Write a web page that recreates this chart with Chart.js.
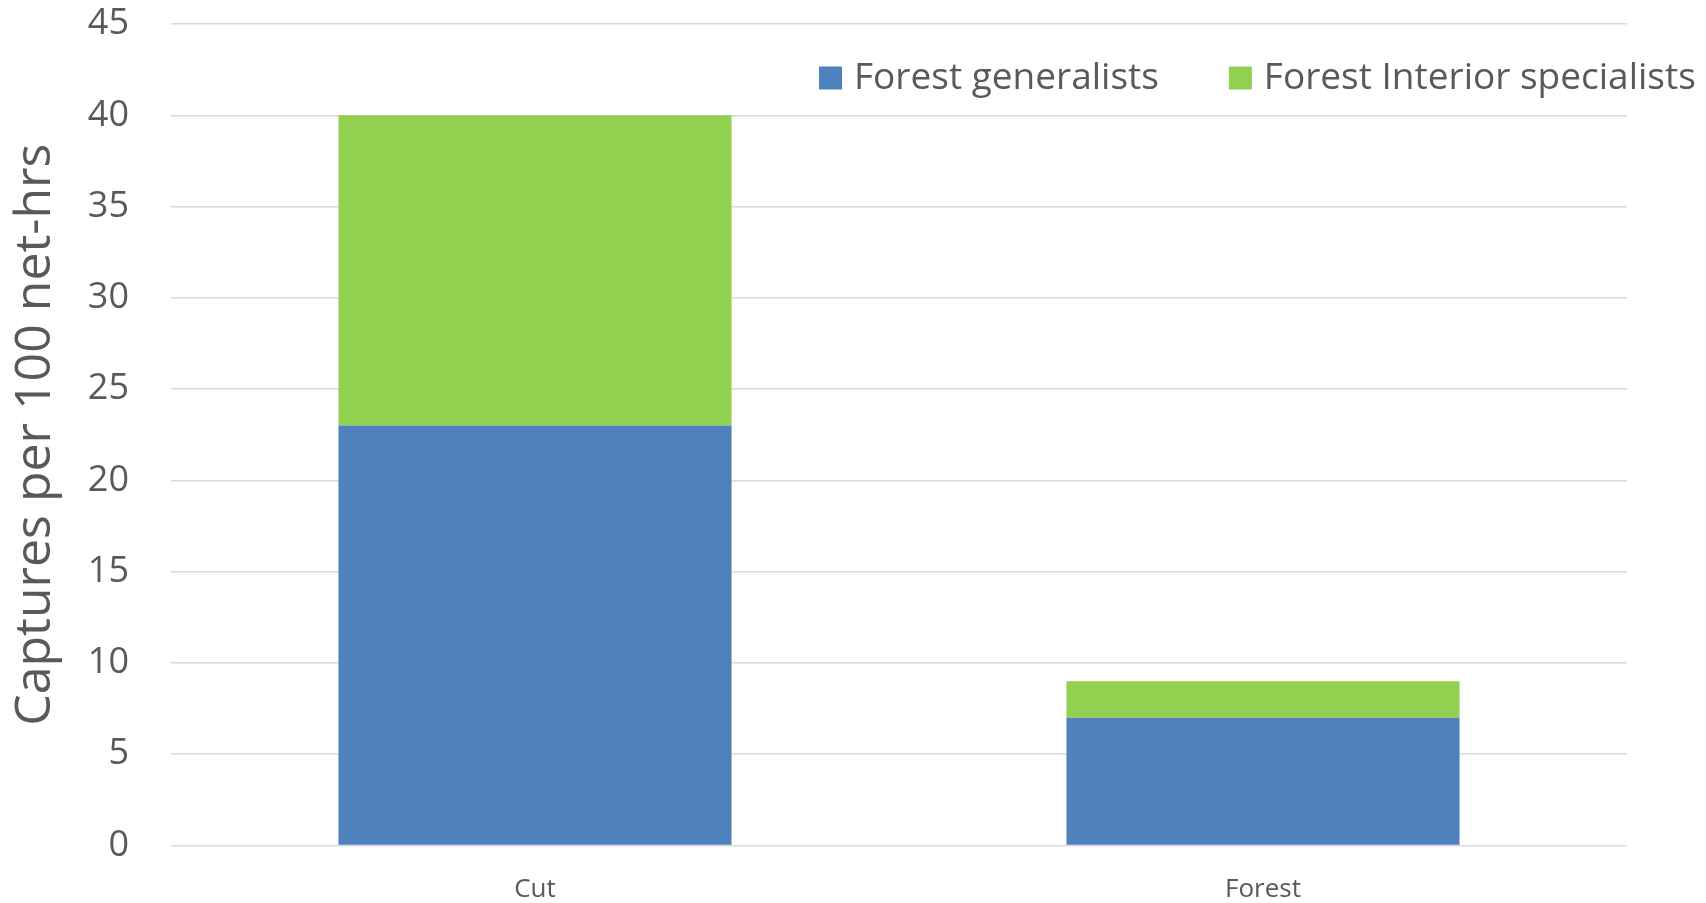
<!DOCTYPE html>
<html lang="en">
<head>
    <meta charset="UTF-8">
    <title>Captures per 100 net-hrs</title>
    <script src="https://cdn.jsdelivr.net/npm/chart.js"></script>
    <style>
        html, body {
            margin: 0;
            padding: 0;
            background: #ffffff;
        }
        .chart-box {
            position: relative;
            width: 1706px;
            height: 903px;
        }
    </style>
</head>
<body>

<div class="chart-box">
    <canvas id="capturesChart"></canvas>
</div>

<script>
    // Habitat categories and captures per series
    const habitats = ['Cut', 'Forest'];
    const generalists = [23, 7];
    const interiorSpecialists = [17, 2];
    const seriesNames = ['Forest generalists', 'Forest Interior specialists'];
    const yTicks = [0, 5, 10, 15, 20, 25, 30, 35, 40, 45];

    const textColor = '#595959';
    const gridColor = '#d9d9d9';

    // Legend sits inside the plot, between the top two gridlines
    const insideLegend = {
        id: 'insideLegend',
        afterDraw(chart) {
            const ctx = chart.ctx;
            const area = chart.chartArea;
            const box = 23;
            const gap = 12;
            const spacing = 70;
            const cy = area.top + 54;
            let x = area.left + 648;
            ctx.save();
            ctx.font = '37px "Open Sans"';
            ctx.textBaseline = 'middle';
            ctx.textAlign = 'left';
            chart.data.datasets.forEach(ds => {
                ctx.fillStyle = ds.backgroundColor;
                ctx.fillRect(x, cy - box / 2, box, box);
                x += box + gap;
                ctx.fillStyle = textColor;
                ctx.fillText(ds.label, x, cy);
                x += ctx.measureText(ds.label).width + spacing;
            });
            ctx.restore();
        }
    };

    const ctx = document.getElementById('capturesChart').getContext('2d');
    new Chart(ctx, {
        type: 'bar',
        data: {
            labels: habitats,
            datasets: [
                {
                    label: seriesNames[0],
                    data: generalists,
                    backgroundColor: '#4f81bd',
                    categoryPercentage: 1,
                    barPercentage: 0.54
                },
                {
                    label: seriesNames[1],
                    data: interiorSpecialists,
                    backgroundColor: '#92d050',
                    categoryPercentage: 1,
                    barPercentage: 0.54
                }
            ]
        },
        options: {
            responsive: true,
            maintainAspectRatio: false,
            animation: false,
            layout: {
                padding: { top: 24, right: 79, bottom: 0, left: 0 }
            },
            plugins: {
                legend: { display: false },
                tooltip: { enabled: false }
            },
            scales: {
                x: {
                    stacked: true,
                    grid: { display: false },
                    border: { display: false },
                    ticks: {
                        color: textColor,
                        padding: 20,
                        font: { family: 'Open Sans', size: 26 }
                    },
                    afterFit: s => { s.height = 57.5; }
                },
                y: {
                    stacked: true,
                    min: 0,
                    max: 45,
                    afterBuildTicks: s => { s.ticks = yTicks.map(v => ({ value: v })); },
                    grid: {
                        color: gridColor,
                        lineWidth: 1.5,
                        tickLength: 42,
                        tickColor: 'rgba(0,0,0,0)'
                    },
                    border: { display: false },
                    ticks: {
                        color: textColor,
                        padding: 0,
                        font: { family: 'Open Sans', size: 36 }
                    },
                    title: {
                        display: true,
                        text: 'Captures per 100 net-hrs',
                        color: textColor,
                        padding: { top: 6, bottom: 0 },
                        font: { family: 'Open Sans', size: 50 }
                    },
                    afterFit: s => { s.width = 171; }
                }
            }
        },
        plugins: [insideLegend]
    });
</script>
</body>
</html>
